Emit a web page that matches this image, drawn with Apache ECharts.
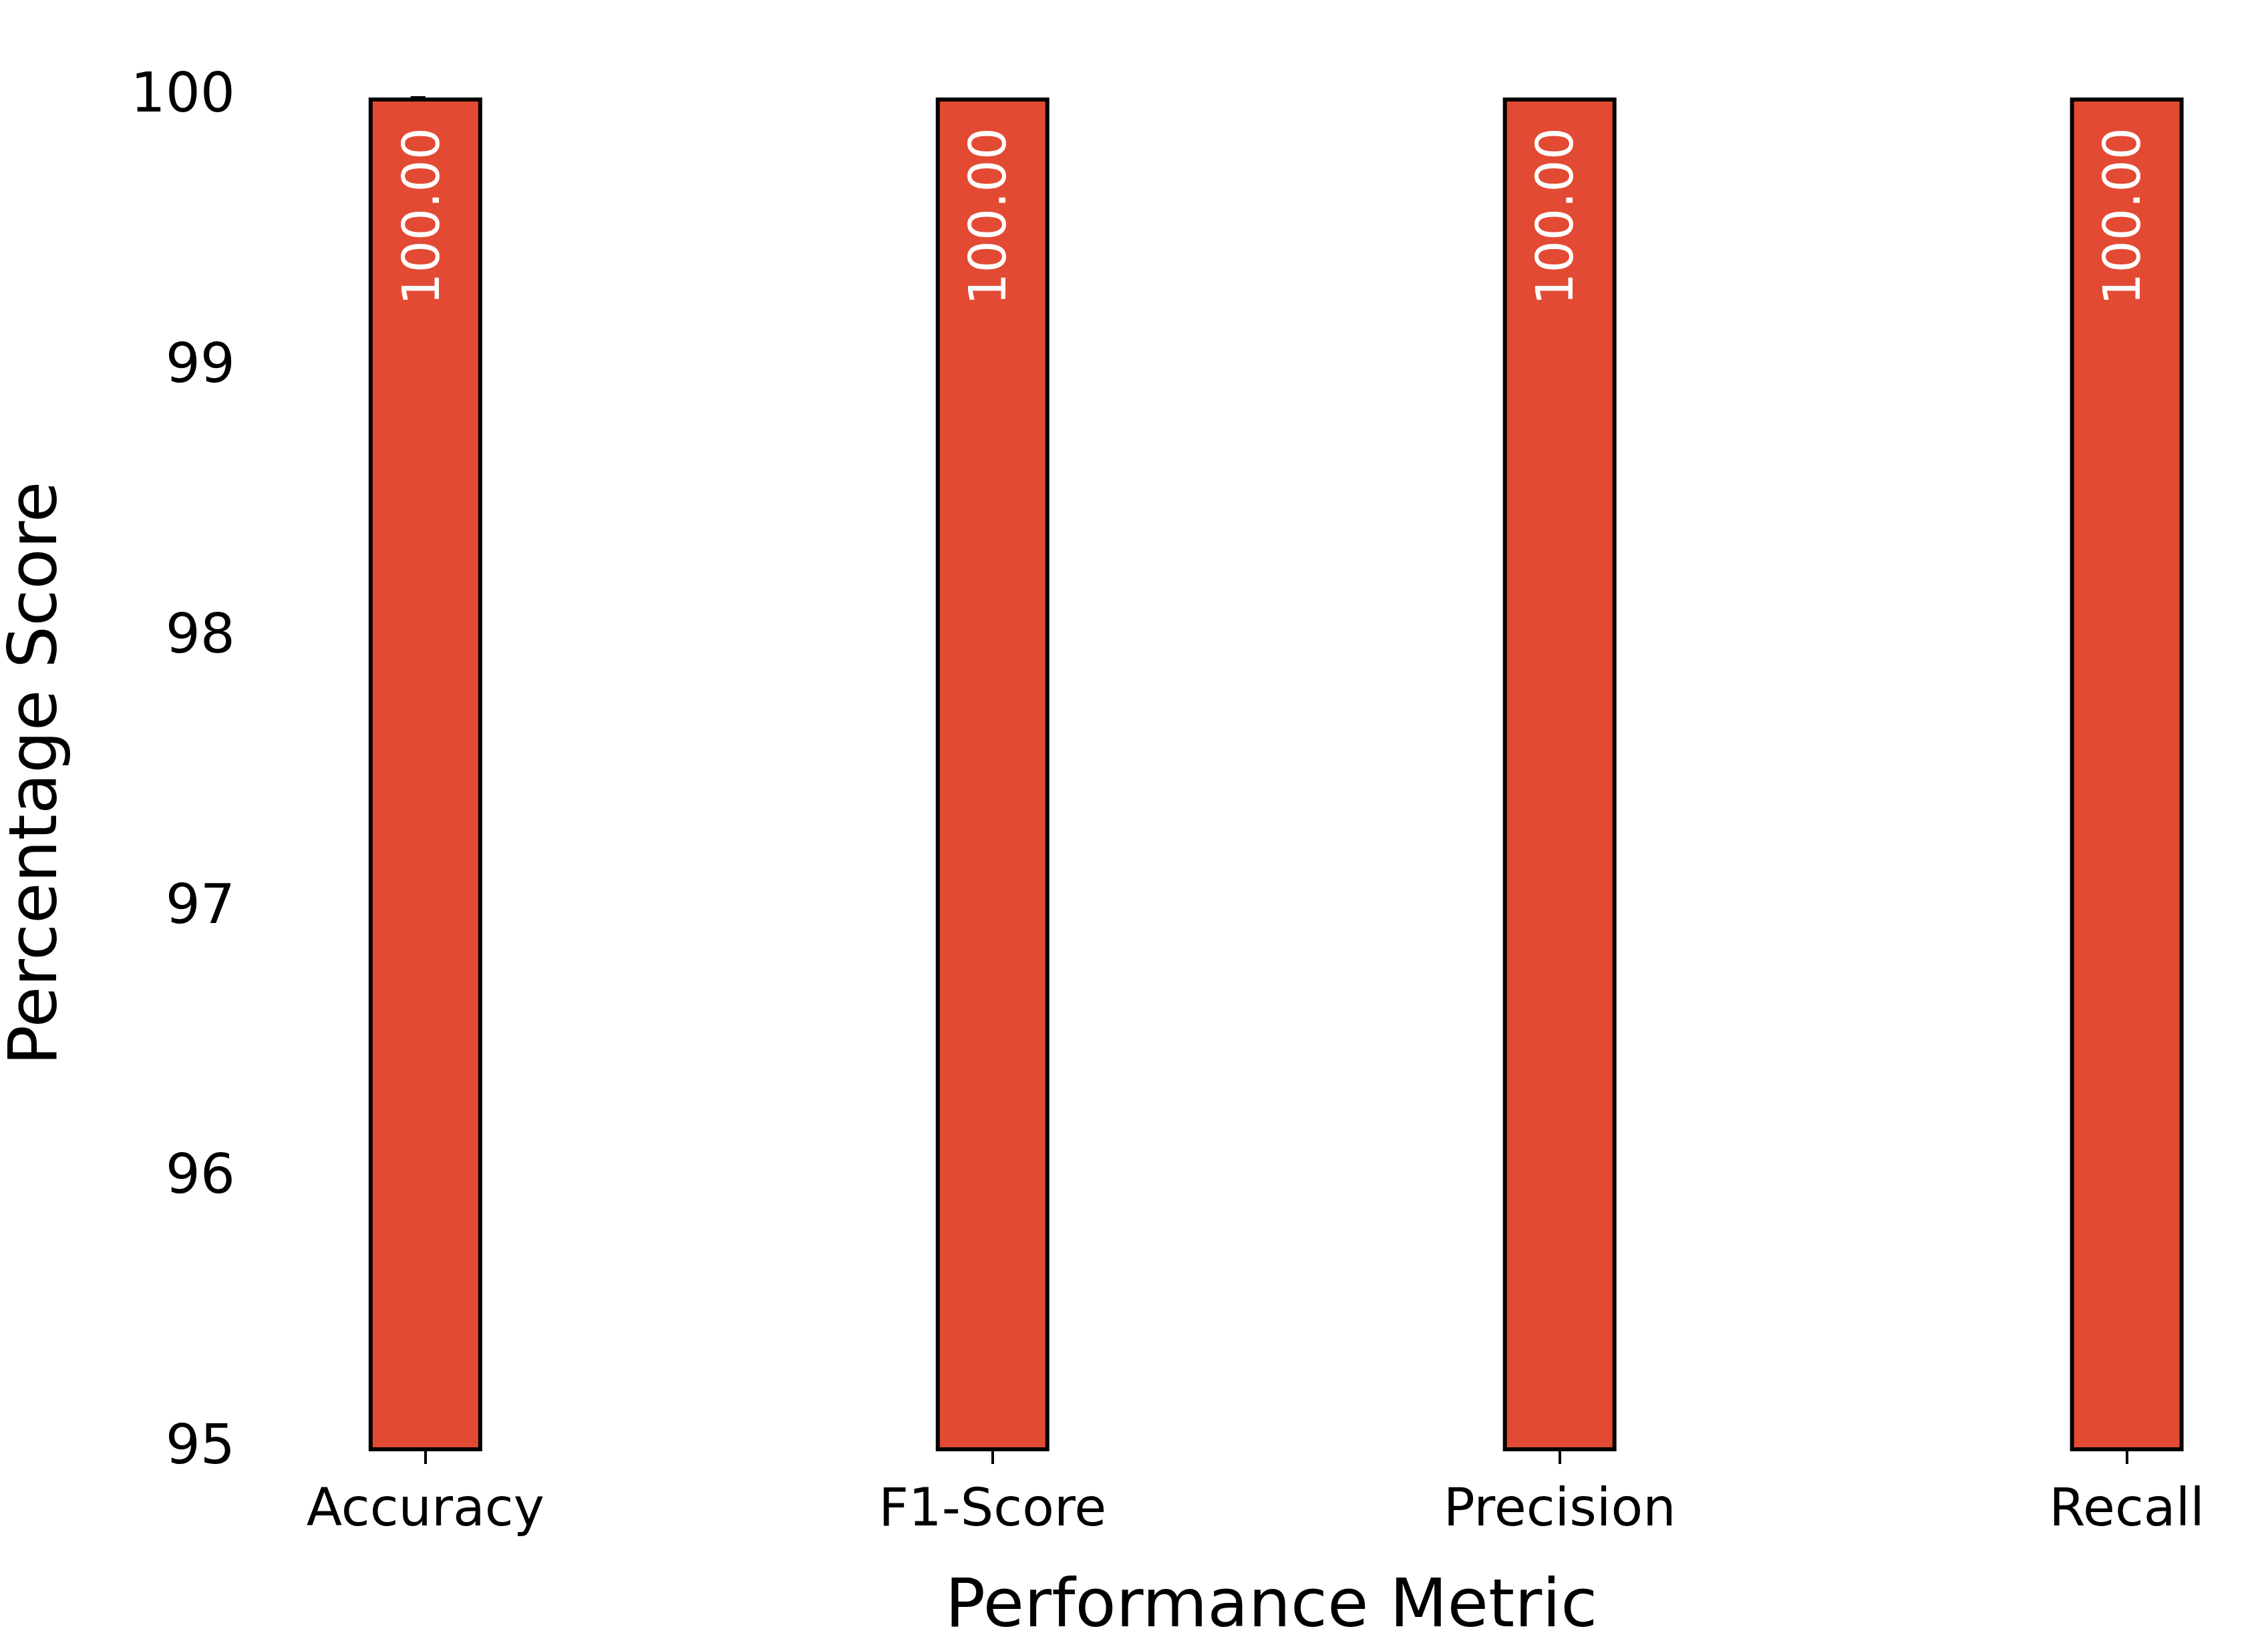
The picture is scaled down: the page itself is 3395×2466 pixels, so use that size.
<!DOCTYPE html>
<html><head><meta charset="utf-8">
<script src="https://cdn.jsdelivr.net/npm/echarts@6/dist/echarts.min.js"></script>
<style>html,body{margin:0;background:#fff}#c{width:3395px;height:2466px}</style>
</head><body><div id="c"></div>
<script>
const categories = ['Accuracy','F1-Score','Precision','Recall'];
const scores = [100, 100, 100, 100];
const yTicks = [95, 96, 97, 98, 99, 100];
const font = 'DejaVu Sans';
const chart = echarts.init(document.getElementById('c'));
chart.setOption({
  backgroundColor:'#fff',
  animation:false,
  grid:{left:407, right:0, top:146, bottom:2466-2170},
  xAxis:{type:'value', min:-0.266, max:3.249,
    name:'Performance Metric', nameLocation:'middle', nameGap:189,
    nameTextStyle:{fontFamily:font, fontSize:100, color:'#000'},
    axisLine:{show:false}, splitLine:{show:false},
    axisTick:{show:true, customValues:[0,1,2,3], length:22, lineStyle:{color:'#000', width:4}},
    axisLabel:{customValues:[0,1,2,3], fontFamily:font, fontSize:78, color:'#000', margin:55,
      formatter:v=>categories[Math.round(v)]}
  },
  yAxis:{type:'value', min:95, max:100, interval:1,
    name:'Percentage Score', nameLocation:'middle', nameGap:303,
    nameTextStyle:{fontFamily:font, fontSize:100, color:'#000'},
    axisLine:{show:false}, splitLine:{show:false},
    axisTick:{show:true, length:22, lineStyle:{color:'#000', width:4}},
    axisLabel:{fontFamily:font, fontSize:82, color:'#000', margin:59,
      formatter:v=>yTicks.includes(v)?String(v):''}
  },
  series:[{type:'bar', data:scores.map((v,i)=>[i,v]), barWidth:170,
    itemStyle:{color:'#E34A33', borderColor:'#000', borderWidth:6},
    label:{show:true, position:'insideTop', rotate:90, align:'right', verticalAlign:'middle',
      distance:45, color:'#fff', fontFamily:font, fontSize:76,
      formatter:p=>p.value[1].toFixed(2)}
  }]
});
</script></body></html>
